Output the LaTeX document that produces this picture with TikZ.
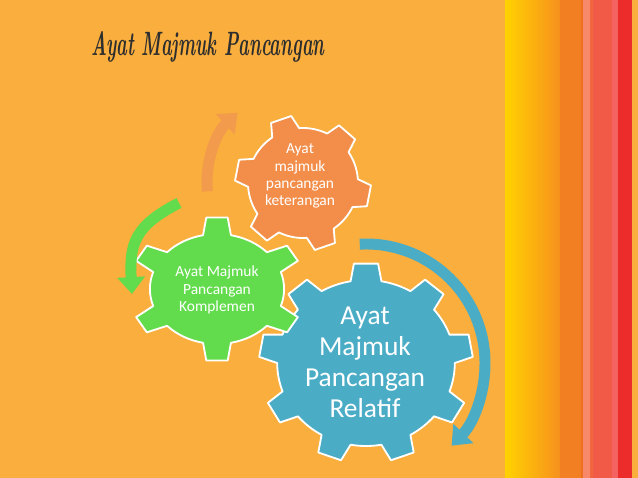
\documentclass[tikz,border=0pt]{standalone}
\usepackage{fontspec}
\setsansfont{Carlito}
\usepackage{graphicx}
\usepackage{tikz}
\usetikzlibrary{arrows.meta}

\definecolor{bgorange}{HTML}{F9AE3D}
\definecolor{stripyellow}{HTML}{FFD200}
\definecolor{stripmid}{HTML}{F7901E}
\definecolor{stripdark}{HTML}{F27F22}
\definecolor{stripline}{HTML}{EE6E22}
\definecolor{stripsalmon}{HTML}{F7896A}
\definecolor{stripcoral}{HTML}{F1663E}
\definecolor{stripred}{HTML}{F05A46}
\definecolor{strippink}{HTML}{F46262}
\definecolor{stripdeep}{HTML}{EC2B2B}
\definecolor{gearblue}{HTML}{4BACC6}
\definecolor{geargreen}{HTML}{62DC4C}
\definecolor{gearorange}{HTML}{F28E4A}
\definecolor{arroworange}{HTML}{F29B4C}
\definecolor{titlegray}{HTML}{2E2E2E}

\begin{document}
\begin{tikzpicture}[x = 0.025cm, y = 0.025cm,
	gear/.style = {draw = white, line width = 1.3pt, line join = round},
	geartext/.style = {text = white, align = center,
		font = \sffamily\fontsize{11}{12.2}\selectfont},
	turn/.style = {line width = 7.8pt,
		-{Triangle[width = 19pt, length = 12pt]}},
	titletext/.style = {text = titlegray,
		font = \fontsize{24}{24}\selectfont\bfseries\itshape}]

	% background and stripes
	\fill[bgorange] (0,0) rectangle (638,-478);
	\shade[left color = stripyellow, right color = stripmid] (505,0) rectangle (560,-478);
	\fill[stripdark] (560,0) rectangle (581,-478);
	\fill[stripline] (581,0) rectangle (583,-478);
	\fill[stripsalmon] (583,0) rectangle (590,-478);
	\fill[stripcoral] (590,0) rectangle (593,-478);
	\fill[stripred] (593,0) rectangle (612,-478);
	\fill[strippink] (612,0) rectangle (618,-478);
	\fill[stripdeep] (618,0) rectangle (632,-478);

	% title
	\node[titletext] (title) at (208,-47)
		{\scalebox{0.54}[1]{Ayat Majmuk Pancangan}};

	\coordinate (cB) at (366,-363);
	\coordinate (cG) at (217,-289);
	\coordinate (cO) at (303,-183);

	% big gear
	\begin{scope}[shift = {(cB)}, xscale = 1.07]
	\draw[gear, fill = gearblue] (80:83)
		\foreach \a in {90,130,...,410} {
			-- ({\a-10}:83) -- ({\a-6.5}:100) -- ({\a+6.5}:100) -- ({\a+10}:83)
			arc[start angle = \a+10, end angle = \a+30, radius = 83]
		} -- cycle;
	\end{scope}

	% left gear
	\begin{scope}[shift = {(cG)}, xscale = 1.22]
	\draw[gear, fill = geargreen] (78:55)
		\foreach \a in {90,150,...,390} {
			-- ({\a-12}:55) -- ({\a-7}:72) -- ({\a+7}:72) -- ({\a+12}:55)
			arc[start angle = \a+12, end angle = \a+48, radius = 55]
		} -- cycle;
	\end{scope}

	% top gear
	\begin{scope}[shift = {(cO)}]
	\draw[gear, fill = gearorange] (94:55)
		\foreach \a in {109,169,...,409} {
			-- ({\a-15}:55) -- ({\a-9}:68) -- ({\a+9}:68) -- ({\a+15}:55)
			arc[start angle = \a+15, end angle = \a+45, radius = 55]
		} -- cycle;
	\end{scope}

	% turning arrows
	\path (cO) ++(185:96) coordinate (oStart);
	\path (cB) ++(93:119) coordinate (bStart);
	\coordinate (gStart) at (179,-203);
	\coordinate (gTip) at (132,-294);

	\draw[turn, draw = arroworange] (oStart)
		arc[start angle = 185, end angle = 133, radius = 96];
	\draw[turn, draw = geargreen] (gStart)
		to[out = 207, in = 93, looseness = 1.25] (gTip);
	\draw[turn, draw = gearblue] (bStart)
		arc[start angle = 93, end angle = -44, radius = 119];

	% labels
	\node[geartext] (keterangan) at (300,-176)
		{Ayat\\majmuk\\pancangan\\keterangan};
	\node[geartext] (komplemen) at (217,-290)
		{Ayat Majmuk\\Pancangan\\Komplemen};
	\node[geartext, font = \sffamily\fontsize{19.5}{22}\selectfont] (relatif) at (365,-362)
		{Ayat\\Majmuk\\Pancangan\\Relatif};

\end{tikzpicture}
\end{document}
